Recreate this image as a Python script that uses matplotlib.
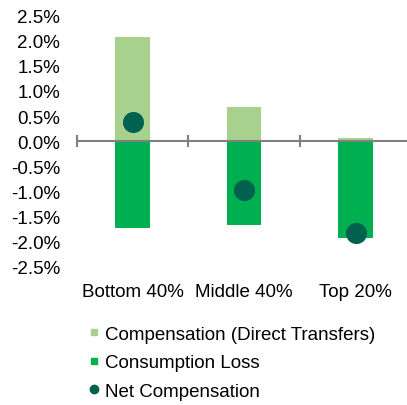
import matplotlib.pyplot as plt
from matplotlib.lines import Line2D

plt.rcParams['font.family'] = ['Liberation Sans', 'DejaVu Sans']

# data (% of consumption)
groups = ['Bottom 40%', 'Middle 40%', 'Top 20%']
compensation = [2.08, 0.69, 0.06]
consumption_loss = [-1.72, -1.67, -1.92]
net_comp = [0.38, -0.97, -1.83]
yticks = [2.5, 2.0, 1.5, 1.0, 0.5, 0.0, -0.5, -1.0, -1.5, -2.0, -2.5]

c_comp = '#A9D18E'
c_loss = '#00B050'
c_net = '#00614E'

fig = plt.figure(figsize=(4.07, 4.06), dpi=100)
ax = fig.add_axes([0.189, 0.3406, 0.822, 0.6183])

x = [i + 0.5 for i in range(len(groups))]
ax.bar(x, compensation, width=0.31, color=c_comp, zorder=2)
ax.bar(x, consumption_loss, width=0.31, color=c_loss, zorder=2)
ax.axhline(0, color='#808080', lw=1.5, zorder=3)
ax.plot(range(len(groups) + 1), [0] * (len(groups) + 1), ls='none', marker='|',
        ms=9, mew=1.5, color='#808080', zorder=3, clip_on=False)
ax.scatter(x, net_comp, s=230, color=c_net, zorder=4, linewidths=0)

ax.set_xlim(0, 3)
ax.set_ylim(-2.5, 2.5)
ax.set_yticks(yticks)
ax.set_yticklabels([f'{v:.1f}%' for v in yticks])
ax.set_xticks(x)
ax.set_xticklabels(groups)
ax.tick_params(axis='y', length=0, pad=12, labelsize=13.5, labelcolor='#000000')
ax.tick_params(axis='x', length=0, pad=11.5, labelsize=13.5, labelcolor='#000000')
for s in ax.spines.values():
    s.set_visible(False)

handles = [
    Line2D([], [], ls='none', marker='s', ms=5, color=c_comp),
    Line2D([], [], ls='none', marker='s', ms=5, color=c_loss),
    Line2D([], [], ls='none', marker='o', ms=6, color=c_net),
]
labels = ['Compensation (Direct Transfers)', 'Consumption Loss', 'Net Compensation']
fig.legend(handles, labels, loc='upper left', bbox_to_anchor=(0.2172, 0.196),
           frameon=False, fontsize=13.5, handlelength=0.6, handletextpad=0.285,
           labelspacing=0.61, borderpad=0, borderaxespad=0)

fig.savefig('out.png', dpi=100)
